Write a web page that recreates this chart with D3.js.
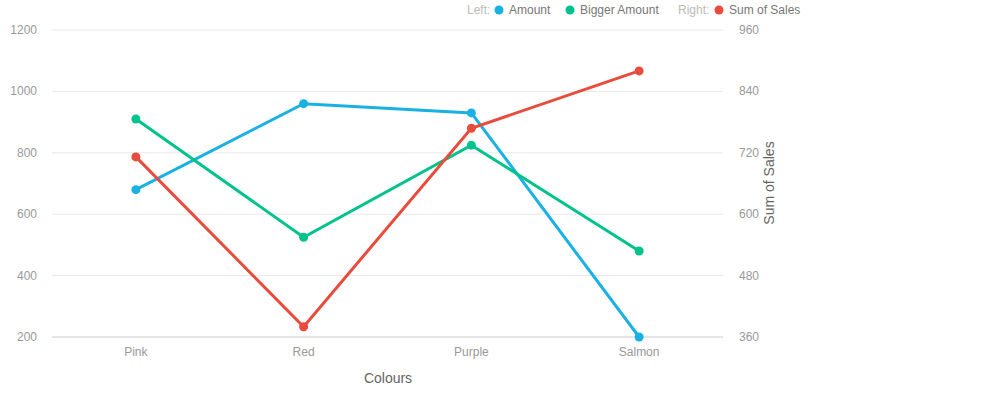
<!DOCTYPE html>
<html>
<head>
<script src="https://d3js.org/d3.v7.min.js"></script>
<style>
  body, html { margin: 0; font-family: "Liberation Sans", Arial, sans-serif; }
</style>
</head>
<body>
<svg id="chart" width="1008" height="400"></svg>
<script>
  var categories = ["Pink", "Red", "Purple", "Salmon"];
  var amount = [680, 960, 930, 200];
  var biggerAmount = [910, 525, 825, 480];
  var sumOfSales = [712, 380, 768, 880];
  var leftTicks = [200, 400, 600, 800, 1000, 1200];
  var rightTicks = [360, 480, 600, 720, 840, 960];

  var svg = d3.select("#chart");
  var plotLeft = 52, plotRight = 723, plotTop = 30, plotBottom = 337;

  var x = d3.scalePoint().domain(categories).range([plotLeft, plotRight]).padding(0.5);
  var yL = d3.scaleLinear().domain([200, 1200]).range([plotBottom, plotTop]);
  var yR = d3.scaleLinear().domain([360, 960]).range([plotBottom, plotTop]);

  // grid
  svg.append("g").selectAll("line").data(leftTicks).enter().append("line")
    .attr("x1", plotLeft).attr("x2", plotRight)
    .attr("y1", d => yL(d)).attr("y2", d => yL(d))
    .attr("stroke", d => d === 200 ? "#ccc" : "#e8e8e8");

  var tickStyle = function (sel) {
    sel.attr("fill", "#999").style("font-size", "12px");
  };
  svg.append("g").selectAll("text").data(leftTicks).enter().append("text")
    .attr("x", 37).attr("y", d => yL(d) + 4).attr("text-anchor", "end")
    .text(d => d).call(tickStyle);
  svg.append("g").selectAll("text").data(rightTicks).enter().append("text")
    .attr("x", 739).attr("y", d => yR(d) + 4)
    .text(d => d).call(tickStyle);
  svg.append("g").selectAll("text").data(categories).enter().append("text")
    .attr("x", d => x(d)).attr("y", 356).attr("text-anchor", "middle")
    .text(d => d).call(tickStyle);

  svg.append("text").attr("x", 388).attr("y", 383).attr("text-anchor", "middle")
    .attr("fill", "#666").style("font-size", "14px").text("Colours");
  svg.append("text").attr("transform", "translate(774,183) rotate(-90)")
    .attr("text-anchor", "middle").attr("fill", "#666").style("font-size", "14px")
    .text("Sum of Sales");

  var series = [
    { values: amount, y: yL, color: "#19b1e3" },
    { values: biggerAmount, y: yL, color: "#00c28c" },
    { values: sumOfSales, y: yR, color: "#e74c3c" }
  ];
  series.forEach(function (s) {
    var line = d3.line().x((d, i) => x(categories[i])).y(d => s.y(d));
    svg.append("path").attr("d", line(s.values)).attr("fill", "none")
      .attr("stroke", s.color).attr("stroke-width", 3);
    svg.append("g").selectAll("circle").data(s.values).enter().append("circle")
      .attr("cx", (d, i) => x(categories[i])).attr("cy", d => s.y(d))
      .attr("r", 4.5).attr("fill", s.color);
  });

  // legend
  var lg = svg.append("g").style("font-size", "12px");
  lg.append("text").attr("x", 467).attr("y", 14).attr("fill", "#bbb").text("Left:");
  var items = [
    { x: 499, label: "Amount", color: "#19b1e3" },
    { x: 570, label: "Bigger Amount", color: "#00c28c" },
    { x: 719, label: "Sum of Sales", color: "#e74c3c" }
  ];
  lg.append("text").attr("x", 678).attr("y", 14).attr("fill", "#bbb").text("Right:");
  items.forEach(function (it) {
    lg.append("circle").attr("cx", it.x).attr("cy", 10).attr("r", 4.5).attr("fill", it.color);
    lg.append("text").attr("x", it.x + 10).attr("y", 14).attr("fill", "#777").text(it.label);
  });
</script>
</body>
</html>
